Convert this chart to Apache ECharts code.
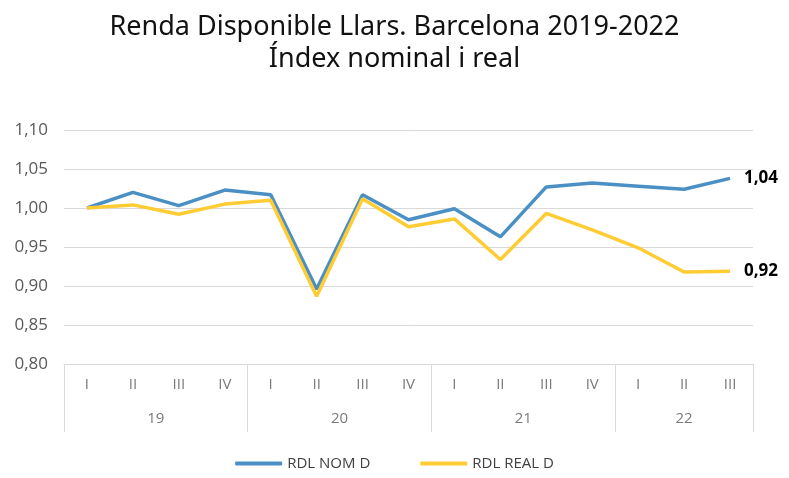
<!DOCTYPE html>
<html>
<head>
<meta charset="utf-8">
<script src="https://cdn.jsdelivr.net/npm/echarts@6/dist/echarts.min.js"></script>
<style>html,body{margin:0;padding:0;background:#fff}#c{width:789px;height:478px}</style>
</head>
<body>
<div id="c"></div>
<script>
const quarters = ['I','II','III','IV','I','II','III','IV','I','II','III','IV','I','II','III'];
const quarterYears = ['19','19','19','19','20','20','20','20','21','21','21','21','22','22','22'];
const nominal = [1.000,1.020,1.003,1.023,1.017,0.896,1.017,0.985,0.999,0.963,1.027,1.032,1.028,1.024,1.038];
const real    = [1.000,1.004,0.992,1.005,1.010,0.887,1.012,0.976,0.986,0.934,0.993,0.972,0.949,0.918,0.919];
const seriesNames = ['RDL NOM D','RDL REAL D'];
const yTicks = {min:0.80, max:1.10, step:0.05};

// Build the year-group axis on a half-band grid (2n+1 points, boundaryGap false)
const n = quarters.length;
const yearAxisData = new Array(2*n+1).fill('');
const boundaryIdx = [0];
let start = 0;
for (let i = 1; i <= n; i++) {
  if (i === n || quarterYears[i] !== quarterYears[start]) {
    yearAxisData[start + i] = quarterYears[start];
    boundaryIdx.push(2*i);
    start = i;
  }
}

const fmt = v => v.toFixed(2).replace('.', ',');
const FONT = 'Open Sans';
const chart = echarts.init(document.getElementById('c'));
chart.setOption({
  animation:false,
  title:{
    text:'Renda Disponible Llars. Barcelona 2019-2022\nÍndex nominal i real',
    left:'center', top:6,
    textStyle:{fontFamily:'Noto Sans', fontSize:27, fontWeight:'normal', color:'#111', lineHeight:32}
  },
  legend:{
    bottom:2, left:'center', itemWidth:47, itemHeight:4, itemGap:50, icon:'roundRect',
    textStyle:{fontFamily:FONT, fontSize:15, color:'#404040'},
    data:seriesNames
  },
  grid:{left:64, right:36, top:130, bottom:114},
  xAxis:[
    {type:'category', data:quarters, boundaryGap:true, position:'bottom',
     axisLine:{show:true, lineStyle:{color:'#d9d9d9'}}, axisTick:{show:false},
     axisLabel:{margin:13, color:'#7a7a7a', fontFamily:FONT, fontSize:15, interval:0}},
    {type:'category', data:yearAxisData, boundaryGap:false, position:'bottom',
     axisLine:{show:false},
     axisTick:{show:true, length:68, lineStyle:{color:'#d9d9d9'}, interval:(i)=>boundaryIdx.includes(i)},
     axisLabel:{margin:47, color:'#7a7a7a', fontFamily:FONT, fontSize:15, interval:0}}
  ],
  yAxis:{type:'value', min:yTicks.min, max:yTicks.max, interval:yTicks.step,
    axisLine:{show:false}, axisTick:{show:false},
    splitLine:{lineStyle:{color:'#d9d9d9'}},
    axisLabel:{formatter:fmt, margin:16, color:'#595959', fontFamily:FONT, fontSize:17}},
  series:[
    {name:seriesNames[0], type:'line', data:nominal, xAxisIndex:0, showSymbol:false, symbol:'none',
     lineStyle:{width:3.5, color:'#4a90c4'}, itemStyle:{color:'#4a90c4'},
     endLabel:{show:true, formatter:p=>fmt(p.value), distance:14, color:'#000', fontWeight:'bold', fontFamily:FONT, fontSize:17}},
    {name:seriesNames[1], type:'line', data:real, xAxisIndex:0, showSymbol:false, symbol:'none',
     lineStyle:{width:3.5, color:'#ffcc33'}, itemStyle:{color:'#ffcc33'},
     endLabel:{show:true, formatter:p=>fmt(p.value), distance:14, color:'#000', fontWeight:'bold', fontFamily:FONT, fontSize:17}}
  ]
});
</script>
</body>
</html>
